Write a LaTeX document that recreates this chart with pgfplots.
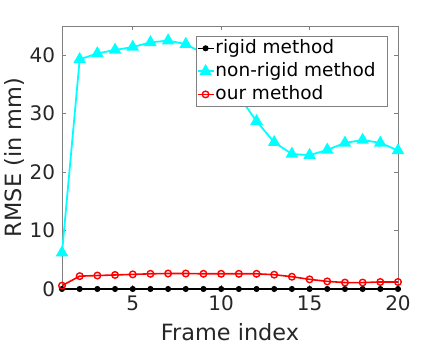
\documentclass[border=0pt]{standalone}
\usepackage{fontspec}
\setmainfont{DejaVu Sans}
\usepackage{pgfplots}
\pgfplotsset{compat=1.18}
\definecolor{mcyan}{rgb}{0,1,1}
\definecolor{mred}{rgb}{1,0,0}
\begin{document}
\fontsize{20}{24}\selectfont
\begin{tikzpicture}[x=1pt,y=1pt]
\useasboundingbox (0,0) rectangle (440,347);
\begin{axis}[
  at={(62pt,58pt)}, anchor=south west,
  scale only axis, width=336pt, height=263pt,
  xmin=1, xmax=20, ymin=0, ymax=45,
  xtick={5,10,15,20}, ytick={0,10,20,30,40},
  tick align=inside, major tick length=4pt,
  axis line style={black!50, line width=0.6pt},
  tick style={black!50, line width=0.6pt},
  ticklabel style={text=black!85, font=\fontsize{20}{24}\selectfont},
  /pgf/number format/assume math mode=true,
  xlabel={Frame index}, ylabel={RMSE (in mm)},
  label style={text=black!85, font=\fontsize{22.4}{26}\selectfont},
  xlabel style={at={(axis description cs:0.5,-0.163)}, anchor=center},
  ylabel style={at={(axis description cs:-0.14,0.5)}, anchor=center},
  legend style={at={(0.97,0.962)}, anchor=north east, draw=black!50, fill=white,
    font=\fontsize{18.5}{22}\selectfont, inner xsep=0pt, inner ysep=1.5pt,
    row sep=2pt, line width=0.6pt,
    /tikz/every even column/.append style={column sep=2pt},
    nodes={inner xsep=1pt}},
  legend image code/.code={%
    \draw[mark repeat=2,mark phase=2,#1] plot coordinates {(0pt,0pt)(8pt,0pt)(16pt,0pt)};},
  legend cell align=left,
  clip=false,
]
\addplot[black, line width=1.6pt, mark=*, mark size=2.2pt] coordinates {
(1,0) (2,0) (3,0) (4,0) (5,0) (6,0) (7,0) (8,0) (9,0) (10,0)
(11,0) (12,0) (13,0) (14,0) (15,0) (16,0) (17,0) (18,0) (19,0) (20,0)
};
\addplot[mcyan, line width=1.8pt, mark=triangle*, mark size=5.5pt] coordinates {
(1,6.2) (2,39.3) (3,40.3) (4,40.9) (5,41.4) (6,42.2) (7,42.5) (8,41.9)
(9,40.3) (10,37.5) (11,33.0) (12,28.7) (13,25.1) (14,23.1) (15,22.9)
(16,23.8) (17,25.0) (18,25.5) (19,25.0) (20,23.7)
};
\addplot[mred, line width=1.6pt, mark=o, mark size=3.3pt, mark options={line width=1.4pt}] coordinates {
(1,0.57) (2,2.2) (3,2.3) (4,2.4) (5,2.5) (6,2.6) (7,2.65) (8,2.65) (9,2.6) (10,2.6)
(11,2.6) (12,2.6) (13,2.45) (14,2.1) (15,1.65) (16,1.3) (17,1.1) (18,1.1) (19,1.2) (20,1.2)
};
\legend{rigid method\hspace*{11pt}, non-rigid method\hspace*{11pt}, our method\hspace*{11pt}}
\end{axis}
\end{tikzpicture}
\end{document}
